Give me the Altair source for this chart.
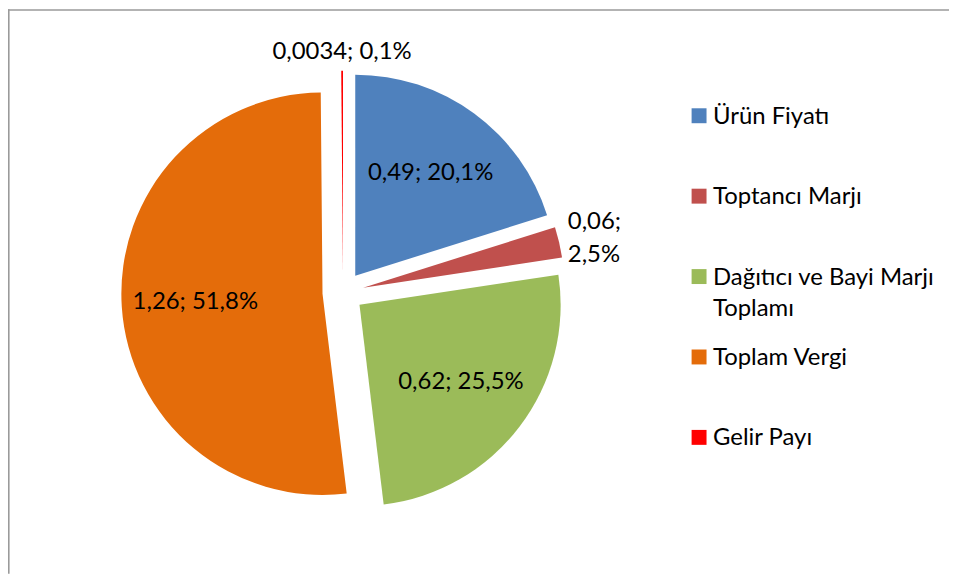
import textwrap
import altair as alt
import pandas as pd

# ---- data ----
categories = ["Ürün Fiyatı", "Toptancı Marjı", "Dağıtıcı ve Bayi Marjı Toplamı", "Toplam Vergi", "Gelir Payı"]
values = [0.49, 0.06, 0.62, 1.26, 0.0034]
value_labels = ["0,49", "0,06", "0,62", "1,26", "0,0034"]
colors = ["#4F81BD", "#C0504D", "#9BBB59", "#E46C0A", "#FF0000"]

total = sum(values)
pct_labels = [f"{100 * v / total:.1f}".replace(".", ",") + "%" for v in values]

df = pd.DataFrame({
    "cat": categories,
    "value": values,
    "order": list(range(len(values))),
    "vlab": value_labels,
    "plab": pct_labels,
    "leg": [textwrap.fill(c, 23) for c in categories],
})

# ---- layout / style ----
W, H = 945, 567
CX, CY = 336.5, 284.4      # pie centre (chart px)
R = 202                   # pie radius
EXPLODE = 20.7            # slice explosion
R_IN = 128                # inside label distance
R_OUT = 211               # outside label distance
FONT = "Lato"
FS = 24

color = alt.Color("cat:N", scale=alt.Scale(domain=categories, range=colors), legend=None)

base = (
    alt.Chart(df)
    .transform_joinaggregate(total="sum(value)")
    .transform_window(cum="sum(value)", sort=[alt.SortField("order")], frame=[None, 0])
    .transform_calculate(
        t1="2*PI*datum.cum/datum.total",
        t0="2*PI*(datum.cum-datum.value)/datum.total",
        frac="datum.value/datum.total",
    )
    .transform_calculate(mid="(datum.t0+datum.t1)/2")
    .transform_calculate(
        px=f"{CX}+{EXPLODE}*sin(datum.mid)",
        py=f"{CY}-{EXPLODE}*cos(datum.mid)",
    )
)

arcs = base.mark_arc(outerRadius=R, innerRadius=0).encode(
    theta=alt.Theta("t0:Q", scale=None, stack=None),
    theta2=alt.Theta2("t1:Q"),
    x=alt.X("px:Q", scale=None, axis=None),
    y=alt.Y("py:Q", scale=None, axis=None),
    color=color,
)

inside = (
    base.transform_filter("datum.frac >= 0.05")
    .transform_calculate(
        lx=f"datum.px+{R_IN}*sin(datum.mid)",
        ly=f"datum.py-{R_IN}*cos(datum.mid)",
        txt="datum.vlab + '; ' + datum.plab",
    )
    .mark_text(font=FONT, fontSize=FS, color="black", align="center", baseline="middle")
    .encode(x=alt.X("lx:Q", scale=None, axis=None), y=alt.Y("ly:Q", scale=None, axis=None), text="txt:N")
)

out_right = (
    base.transform_filter("datum.frac < 0.05 && sin(datum.mid) > 0.5")
    .transform_calculate(
        lx=f"datum.px+{R_OUT}*sin(datum.mid)",
        ly=f"datum.py-{R_OUT}*cos(datum.mid)",
        txt="datum.vlab + ';\\n' + datum.plab",
    )
    .mark_text(font=FONT, fontSize=FS, color="black", align="left", baseline="middle",
               lineBreak="\n", lineHeight=33, dy=-18)
    .encode(x=alt.X("lx:Q", scale=None, axis=None), y=alt.Y("ly:Q", scale=None, axis=None), text="txt:N")
)

out_top = (
    base.transform_filter("datum.frac < 0.05 && cos(datum.mid) > 0.5")
    .transform_calculate(
        lx=f"datum.px+{R_OUT}*sin(datum.mid)",
        ly=f"datum.py-{R_OUT}*cos(datum.mid)",
        txt="datum.vlab + '; ' + datum.plab",
    )
    .mark_text(font=FONT, fontSize=FS, color="black", align="center", baseline="alphabetic", dy=-3)
    .encode(x=alt.X("lx:Q", scale=None, axis=None), y=alt.Y("ly:Q", scale=None, axis=None), text="txt:N")
)

leg_y = alt.Y("cat:N", sort=categories, scale=alt.Scale(range=[107, 430], padding=0), axis=None)

leg_sq = alt.Chart(df).mark_square(size=225, filled=True, opacity=1).encode(
    x=alt.value(694), y=leg_y, color=color
)
leg_txt = alt.Chart(df).mark_text(
    font=FONT, fontSize=FS, color="black", align="left", baseline="alphabetic",
    dy=8, lineBreak="\n", lineHeight=32,
).encode(x=alt.value(708), y=leg_y, text="leg:N")

frame_df = pd.DataFrame({"k": [0]})
frame_left = alt.Chart(frame_df).mark_rule(color="#9a9a9a", strokeWidth=1.6).encode(
    x=alt.value(0.8), y=alt.value(0), y2=alt.value(H)
)
frame_top = alt.Chart(frame_df).mark_rule(color="#9a9a9a", strokeWidth=1.6).encode(
    x=alt.value(0), x2=alt.value(W), y=alt.value(0.8)
)

chart = (
    alt.layer(frame_left, frame_top, arcs, inside, out_right, out_top, leg_sq, leg_txt)
    .resolve_scale(y="independent", x="independent")
    .properties(width=W, height=H, autosize=alt.AutoSizeParams(type="none"), padding=0)
    .configure_view(stroke=None)
)

chart.save("out.html", embed_options={"renderer": "svg", "actions": False})
